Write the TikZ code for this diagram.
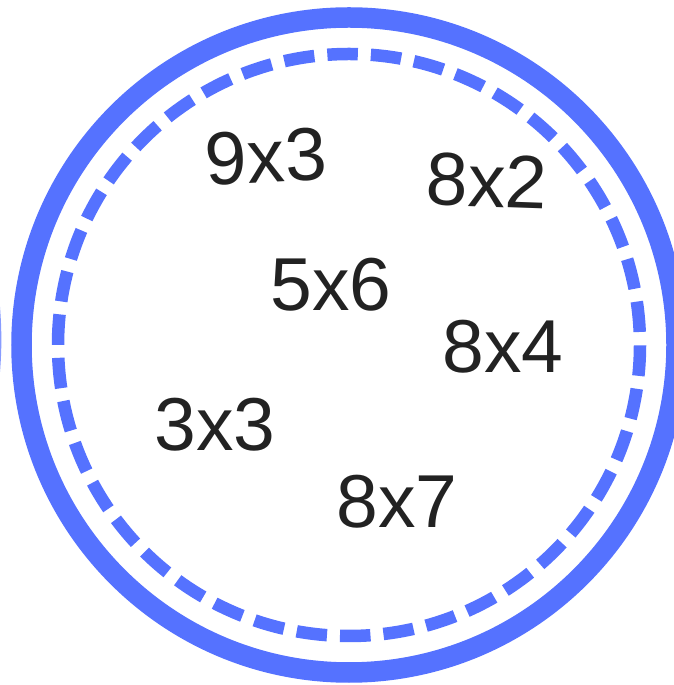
\documentclass[tikz,border=0pt]{standalone}
\usepackage{fontspec}
\setmainfont{Liberation Sans}
\definecolor{ringblue}{RGB}{85,114,255}
\definecolor{txt}{RGB}{34,34,34}
\begin{document}
\begin{tikzpicture}[x=1pt,y=1pt,
  lbl/.style={text=txt,inner sep=0pt,font=\fontsize{75}{75}\selectfont}]
\useasboundingbox (0,0) rectangle (673,685);
\coordinate (c) at (349,340);
\draw[ringblue,line width=20.5pt] (c) circle[radius=327.5];
\draw[ringblue,line width=12.5pt,dash pattern=on 30.5pt off 13.03pt,dash phase=30.5pt] (c) circle[radius=291];
\fill[ringblue!70] (0,378) .. controls (1.8,355) and (1.8,335) .. (0,313) -- cycle;
\node[lbl,rotate=3] (n93) at (266,528) {9x3};
\node[lbl,rotate=-2] (n82) at (487,504) {8x2};
\node[lbl] (n56) at (331,400) {5x6};
\node[lbl] (n84) at (503,338) {8x4};
\node[lbl] (n33) at (215,260) {3x3};
\node[lbl] (n87) at (397,183) {8x7};
\end{tikzpicture}
\end{document}
